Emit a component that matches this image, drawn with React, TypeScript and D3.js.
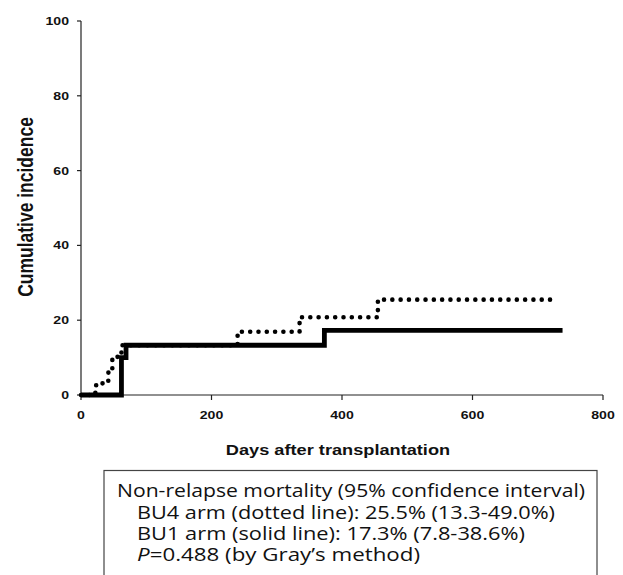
import React from "react";
import * as d3 from "d3";

const xTicks = [0, 200, 400, 600, 800];
const yTicks = [0, 20, 40, 60, 80, 100];

// BU1 arm (solid line)
const bu1Days = [0, 62, 69, 373, 738];
const bu1Values = [0, 10, 13.3, 17.3, 17.3];

// BU4 arm (dotted line)
const bu4Days = [0, 22, 33, 42, 48, 62, 240, 335, 455, 726];
const bu4Values = [0, 2.6, 3.8, 6.4, 10.2, 13.3, 16.9, 20.8, 25.5, 25.5];

const xTitle = "Days after transplantation";
const yTitle = "Cumulative incidence";
const boxLines = [
  "Non-relapse mortality (95% confidence interval)",
  "BU4 arm (dotted line): 25.5% (13.3-49.0%)",
  "BU1 arm (solid line): 17.3% (7.8-38.6%)",
];
const pLine = ["P", "=0.488 (by Gray\u2019s method)"];

const W = 623;
const H = 575;
const left = 81;
const right = 603;
const top = 21;
const bottom = 395;
const SX = 1.28;
const arial = "'Liberation Sans', Arial, sans-serif";
const boxFont = "'Open Sans', 'Noto Sans', sans-serif";

export default function App() {
  const x = d3.scaleLinear().domain([0, 800]).range([left, right]);
  const y = d3.scaleLinear().domain([0, 100]).range([bottom, top]);
  const line = d3
    .line<[number, number]>()
    .x((d) => x(d[0]))
    .y((d) => y(d[1]))
    .curve(d3.curveStepAfter);
  const bu1 = line(bu1Days.map((d, i) => [d, bu1Values[i]] as [number, number])) || "";
  const bu4 = line(bu4Days.map((d, i) => [d, bu4Values[i]] as [number, number])) || "";

  return (
    <svg
      width={W}
      height={H}
      style={{ position: "absolute", left: 0, top: 0, background: "#fff" }}
    >
      <rect width={W} height={H} fill="#fff" />
      {/* axes */}
      <line x1={left} x2={left} y1={y(100)} y2={y(0)} stroke="#222" strokeWidth={1.2} />
      <line x1={x(0)} x2={x(800)} y1={bottom} y2={bottom} stroke="#222" strokeWidth={1.2} />
      {yTicks.map((t) => (
        <g key={"y" + t}>
          <line x1={left - 4} x2={left} y1={y(t)} y2={y(t)} stroke="#222" strokeWidth={1.2} />
          <text
            transform={`translate(${left - 12},${y(t) + 4}) scale(${SX},1)`}
            textAnchor="end"
            fontFamily={arial}
            fontWeight="bold"
            fontSize={11}
            fill="#111"
          >
            {t}
          </text>
        </g>
      ))}
      {xTicks.map((t) => (
        <g key={"x" + t}>
          <line x1={x(t)} x2={x(t)} y1={bottom} y2={bottom + 5} stroke="#222" strokeWidth={1.2} />
          <text
            transform={`translate(${x(t)},${bottom + 24}) scale(${SX},1)`}
            textAnchor="middle"
            fontFamily={arial}
            fontWeight="bold"
            fontSize={11}
            fill="#111"
          >
            {t}
          </text>
        </g>
      ))}
      {/* titles */}
      <text
        transform={`translate(338,455) scale(1.3,1)`}
        textAnchor="middle"
        fontFamily={arial}
        fontWeight="bold"
        fontSize={14}
        fill="#111"
      >
        {xTitle}
      </text>
      <text
        transform={`translate(33,207) scale(${SX},1) rotate(-90)`}
        textAnchor="middle"
        fontFamily={arial}
        fontWeight="bold"
        fontSize={17.5}
        fill="#111"
      >
        {yTitle}
      </text>
      {/* curves */}
      <path
        d={bu4}
        fill="none"
        stroke="#000"
        strokeWidth={4.6}
        strokeDasharray="0 8.3"
        strokeLinecap="round"
      />
      <path d={bu1} fill="none" stroke="#000" strokeWidth={4.8} strokeLinejoin="miter" />
      {/* annotation box */}
      <rect x={104} y={470.5} width={493} height={130} fill="none" stroke="#444" strokeWidth={1.2} />
      <text x={117} y={497} fontFamily={boxFont} fontSize={18.5} fill="#111" textLength={468} lengthAdjust="spacingAndGlyphs">
        {boxLines[0]}
      </text>
      <text x={137} y={519} fontFamily={boxFont} fontSize={18.5} fill="#111" textLength={418} lengthAdjust="spacingAndGlyphs">
        {boxLines[1]}
      </text>
      <text x={137} y={540} fontFamily={boxFont} fontSize={18.5} fill="#111" textLength={388} lengthAdjust="spacingAndGlyphs">
        {boxLines[2]}
      </text>
      <text x={137} y={561} fontFamily={boxFont} fontSize={18.5} fill="#111" textLength={283} lengthAdjust="spacingAndGlyphs">
        <tspan fontStyle="italic">{pLine[0]}</tspan>
        <tspan>{pLine[1]}</tspan>
      </text>
    </svg>
  );
}
